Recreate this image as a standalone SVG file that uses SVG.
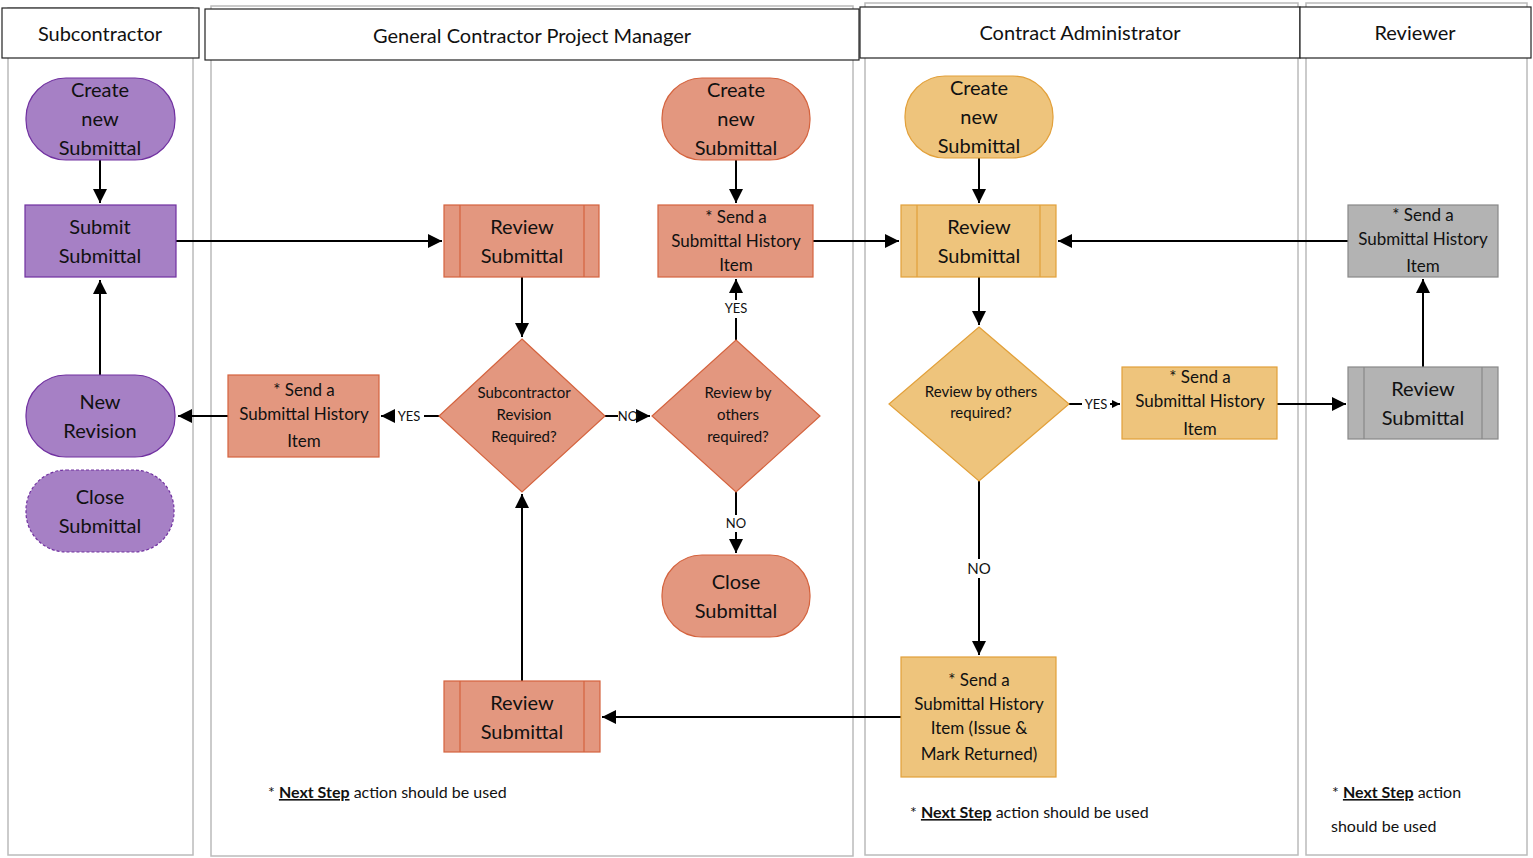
<svg xmlns="http://www.w3.org/2000/svg" width="1533" height="858" viewBox="0 0 1533 858">
<style>
text{font-family:Lato,"Open Sans","Liberation Sans",sans-serif;fill:#111;text-anchor:middle}
.t{font-size:20px}.s{font-size:17px}.d{font-size:15px}.l{font-size:13px}.f{font-size:16px;text-anchor:start}
.lane{fill:#fff;stroke:#bbb;stroke-width:1.5}
.hd{fill:#fff;stroke:#222;stroke-width:1.2}
.pu{fill:#A680C5;stroke:#7030A0;stroke-width:1.2}
.or{fill:#E3977F;stroke:#D4633E;stroke-width:1.2}
.ye{fill:#EEC47C;stroke:#E2A03A;stroke-width:1.2}
.gr{fill:#B3B3B3;stroke:#888;stroke-width:1.2}
.c{fill:none;stroke:#000;stroke-width:2}
</style>
<defs><marker id="a" viewBox="0 0 10 10" refX="10" refY="5" markerWidth="10" markerHeight="8" markerUnits="userSpaceOnUse" orient="auto"><path d="M0,0L10,5L0,10z" fill="#000"/></marker>
<marker id="b" viewBox="0 0 10 10" refX="10" refY="5" markerWidth="20" markerHeight="14" markerUnits="userSpaceOnUse" orient="auto"><path d="M0,0L10,5L0,10z" fill="#000"/></marker></defs>
<g id="lanes">
<rect class="lane" x="8" y="8" width="185" height="847"/>
<rect class="lane" x="211" y="6" width="642" height="850"/>
<rect class="lane" x="865" y="3" width="433" height="852"/>
<rect class="lane" x="1306" y="3" width="221" height="852"/>
<rect class="hd" x="2" y="8" width="197" height="50"/><text class="t" x="100" y="41">Subcontractor</text>
<rect class="hd" x="205" y="9" width="654" height="51"/><text class="t" x="532" y="43">General Contractor Project Manager</text>
<rect class="hd" x="860" y="7" width="440" height="51"/><text class="t" x="1080" y="40">Contract Administrator</text>
<rect class="hd" x="1300" y="7" width="231" height="51"/><text class="t" x="1415" y="40">Reviewer</text>
</g>
<g id="connectors">
<path class="c" d="M100,160V203" marker-end="url(#b)"/>
<path class="c" d="M176,241H442" marker-end="url(#b)"/>
<path class="c" d="M100,375V280" marker-end="url(#b)"/>
<path class="c" d="M228,416H178" marker-end="url(#b)"/>
<path class="c" d="M522,277V337" marker-end="url(#b)"/>
<path class="c" d="M440,416H424M394,416H381" marker-end="url(#b)"/>
<path class="c" d="M605,416H618M640,416H650" marker-end="url(#b)"/>
<path class="c" d="M736,340V318M736,300V279" marker-end="url(#b)"/>
<path class="c" d="M736,492V515M736,532V553" marker-end="url(#b)"/>
<path class="c" d="M736,160V203" marker-end="url(#b)"/>
<path class="c" d="M813,241H899" marker-end="url(#b)"/>
<path class="c" d="M522,681V494" marker-end="url(#b)"/>
<path class="c" d="M901,717H602" marker-end="url(#b)"/>
<path class="c" d="M979,158V203" marker-end="url(#b)"/>
<path class="c" d="M979,277V325" marker-end="url(#b)"/>
<path class="c" d="M979,481V559M979,578V655" marker-end="url(#b)"/>
<path class="c" d="M1069,404H1082" /><path class="c" d="M1110,404H1120" marker-end="url(#a)"/>
<path class="c" d="M1277,404H1346" marker-end="url(#b)"/>
<path class="c" d="M1423,367V279" marker-end="url(#b)"/>
<path class="c" d="M1348,241H1058" marker-end="url(#b)"/>
<text class="l" x="409" y="421">YES</text><text class="l" x="628" y="421">NO</text>
<text class="l" x="736" y="313">YES</text><text class="l" x="736" y="528">NO</text>
<text class="d" x="979" y="574">NO</text><text class="l" x="1096" y="409">YES</text>
</g>
<g id="n1"><rect class="pu" x="26" y="78" width="149" height="82" rx="40"/><text class="t" x="100" y="97">Create</text><text class="t" x="100" y="126">new</text><text class="t" x="100" y="155">Submittal</text></g>
<g id="n2"><rect class="pu" x="25" y="205" width="151" height="72"/><text class="t" x="100" y="234">Submit</text><text class="t" x="100" y="263">Submittal</text></g>
<g id="n3"><rect class="pu" x="26" y="375" width="149" height="82" rx="40"/><text class="t" x="100" y="409">New</text><text class="t" x="100" y="438">Revision</text></g>
<g id="n4"><rect class="pu" x="26" y="470" width="148" height="82" rx="40" stroke-dasharray="3,2"/><text class="t" x="100" y="504">Close</text><text class="t" x="100" y="533">Submittal</text></g>
<g id="n5"><rect class="or" x="444" y="205" width="155" height="72"/><path class="or" d="M460,205V277M584,205V277"/><text class="t" x="522" y="234">Review</text><text class="t" x="522" y="263">Submittal</text></g>
<g id="n6"><rect class="or" x="662" y="78" width="148" height="82" rx="40"/><text class="t" x="736" y="97">Create</text><text class="t" x="736" y="126">new</text><text class="t" x="736" y="155">Submittal</text></g>
<g id="n7"><rect class="or" x="658" y="205" width="155" height="72"/><text class="s" x="736" y="223">* Send a</text><text class="s" x="736" y="247">Submittal History</text><text class="s" x="736" y="271">Item</text></g>
<g id="n8"><path class="or" d="M522,339L605,416L522,492L439,416z"/><text class="d" x="524" y="398">Subcontractor</text><text class="d" x="524" y="420">Revision</text><text class="d" x="524" y="442">Required?</text></g>
<g id="n9"><path class="or" d="M736,340L820,416L736,492L652,416z"/><text class="d" x="738" y="398">Review by</text><text class="d" x="738" y="420">others</text><text class="d" x="738" y="442">required?</text></g>
<g id="n10"><rect class="or" x="228" y="375" width="151" height="82"/><text class="s" x="304" y="396">* Send a</text><text class="s" x="304" y="420">Submittal History</text><text class="s" x="304" y="447">Item</text></g>
<g id="n11"><rect class="or" x="662" y="555" width="148" height="82" rx="40"/><text class="t" x="736" y="589">Close</text><text class="t" x="736" y="618">Submittal</text></g>
<g id="n12"><rect class="or" x="444" y="681" width="156" height="71"/><path class="or" d="M460,681V752M584,681V752"/><text class="t" x="522" y="710">Review</text><text class="t" x="522" y="739">Submittal</text></g>
<g id="n13"><rect class="ye" x="905" y="76" width="148" height="82" rx="40"/><text class="t" x="979" y="95">Create</text><text class="t" x="979" y="124">new</text><text class="t" x="979" y="153">Submittal</text></g>
<g id="n14"><rect class="ye" x="901" y="205" width="155" height="72"/><path class="ye" d="M917,205V277M1040,205V277"/><text class="t" x="979" y="234">Review</text><text class="t" x="979" y="263">Submittal</text></g>
<g id="n15"><path class="ye" d="M979,327L1069,404L979,481L889,404z"/><text class="d" x="981" y="397">Review by others</text><text class="d" x="981" y="418">required?</text></g>
<g id="n16"><rect class="ye" x="1122" y="367" width="155" height="72"/><text class="s" x="1200" y="383">* Send a</text><text class="s" x="1200" y="407">Submittal History</text><text class="s" x="1200" y="435">Item</text></g>
<g id="n17"><rect class="ye" x="901" y="657" width="155" height="120"/><text class="s" x="979" y="686">* Send a</text><text class="s" x="979" y="710">Submittal History</text><text class="s" x="979" y="734">Item (Issue &amp;</text><text class="s" x="979" y="760">Mark Returned)</text></g>
<g id="n18"><rect class="gr" x="1348" y="205" width="150" height="72"/><text class="s" x="1423" y="221">* Send a</text><text class="s" x="1423" y="245">Submittal History</text><text class="s" x="1423" y="272">Item</text></g>
<g id="n19"><rect class="gr" x="1348" y="367" width="150" height="72"/><path class="gr" d="M1364,367V439M1482,367V439"/><text class="t" x="1423" y="396">Review</text><text class="t" x="1423" y="425">Submittal</text></g>
<g id="notes">
<text class="f" x="268" y="798">* <tspan font-weight="bold" text-decoration="underline">Next Step</tspan> action should be used</text>
<text class="f" x="910" y="818">* <tspan font-weight="bold" text-decoration="underline">Next Step</tspan> action should be used</text>
<text class="f" x="1332" y="798">* <tspan font-weight="bold" text-decoration="underline">Next Step</tspan> action</text>
<text class="f" x="1331" y="832">should be used</text>
</g>
</svg>
